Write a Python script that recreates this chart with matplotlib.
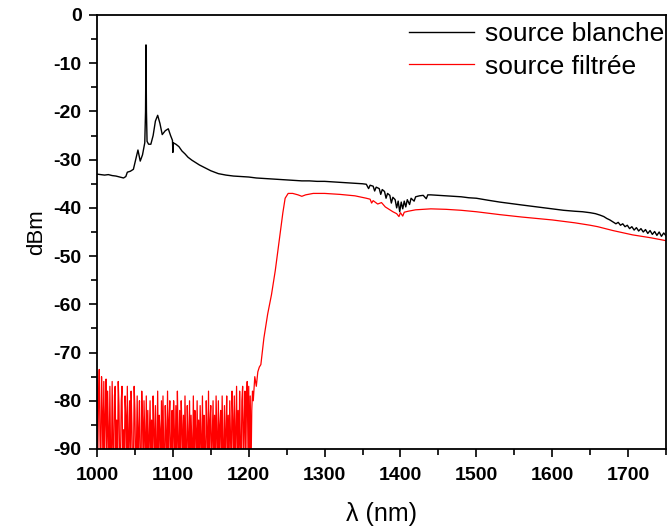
import matplotlib
matplotlib.use("Agg")
import matplotlib.pyplot as plt
from matplotlib.ticker import MultipleLocator

# ---- data: source blanche (black) ----
black_x = [1000, 1005, 1010, 1015, 1020, 1025, 1030, 1035, 1038, 1040, 1044, 1048,
           1051, 1054, 1057, 1060, 1063, 1064, 1064.6, 1065.2, 1066, 1068, 1071, 1074,
           1077, 1080, 1083, 1086, 1090, 1094, 1097, 1099.5, 1100, 1100.5, 1104, 1108,
           1112, 1116, 1120, 1125, 1130, 1135, 1140, 1145, 1150, 1155, 1160, 1170,
           1180, 1190, 1200, 1210, 1220, 1230, 1240, 1250, 1260, 1270, 1280, 1290,
           1300, 1310, 1320, 1330, 1340, 1350, 1355, 1358, 1360, 1364, 1366, 1368,
           1372, 1374, 1376, 1379, 1381, 1383, 1386, 1388, 1390, 1393, 1395, 1397,
           1399, 1401, 1403, 1405, 1407, 1409, 1412, 1414, 1418, 1420, 1425, 1430,
           1434, 1436, 1440, 1450, 1460, 1470, 1480, 1490, 1500, 1515, 1531, 1545,
           1560, 1575, 1590, 1600, 1615, 1630, 1640, 1650, 1657, 1663, 1668, 1672,
           1676, 1680, 1684, 1687, 1690, 1693, 1696, 1699, 1702, 1705, 1708, 1711,
           1714, 1717, 1720, 1723, 1726, 1729, 1732, 1735, 1738, 1741, 1744, 1747, 1750]
black_y = [-33.0, -33.1, -33.2, -33.1, -33.3, -33.4, -33.6, -33.8, -33.5, -32.6, -32.4, -32.0,
           -30.0, -28.0, -30.3, -29.0, -26.5, -20.0, -6.2, -20.0, -26.2, -26.8, -26.8, -25.0,
           -22.0, -20.8, -22.5, -24.8, -24.0, -23.6, -25.0, -26.0, -28.5, -26.5, -26.8, -27.3,
           -28.2, -28.8, -29.5, -30.1, -30.6, -31.1, -31.5, -31.9, -32.3, -32.6, -32.9, -33.2,
           -33.4, -33.5, -33.6, -33.8, -33.9, -34.0, -34.1, -34.2, -34.3, -34.4, -34.4, -34.5,
           -34.5, -34.6, -34.7, -34.8, -34.9, -35.0, -35.1, -36.0, -35.3, -35.5, -36.5, -35.7,
           -36.0, -37.2, -36.2, -36.6, -38.0, -37.0, -37.4, -39.0, -37.8, -38.3, -40.0, -38.6,
           -40.8, -38.8, -40.2, -38.6, -39.8, -38.3, -39.3, -38.0, -38.6, -37.7, -37.5, -37.4,
           -38.1, -37.3, -37.3, -37.4, -37.5, -37.6, -37.7, -37.9, -38.0, -38.4, -38.8, -39.1,
           -39.4, -39.7, -40.0, -40.2, -40.5, -40.7, -40.8, -41.0, -41.2, -41.5, -41.8, -42.2,
           -42.5, -42.9, -43.3, -43.0, -43.6, -43.3, -43.9, -43.6, -44.3, -43.9, -44.6, -44.1,
           -44.8, -44.3, -45.0, -44.5, -45.3, -44.7, -45.5, -44.9, -45.7, -45.0, -45.9, -45.2, -45.8]

# ---- data: source filtrée (red) ----
# noisy floor, sampled every 1 nm from 1000 to 1205 nm
red_noise_x = list(range(1000, 1206))
red_noise_y = [
    -74, -92, -80, -73.5, -88, -95, -75, -82, -95, -76, -90, -84, -75.5, -95, -78, -86, -95, -77, -93, -95,
    -76, -89, -95, -79, -77, -95, -84, -95, -76, -81, -95, -92, -80, -77, -95, -86, -95, -79, -83, -95,
    -77, -95, -88, -80, -95, -78, -85, -95, -95, -77, -82, -95, -90, -79, -95, -86, -80, -95, -95, -78,
    -84, -95, -80, -87, -95, -79, -95, -82, -95, -88, -80, -95, -84, -95, -79, -86, -95, -81, -95, -90,
    -78, -95, -83, -86, -95, -80, -95, -79, -92, -95, -81, -87, -95, -78, -95, -84, -80, -95, -89, -82,
    -95, -80, -86, -95, -81, -95, -78, -88, -95, -82, -95, -80, -85, -95, -83, -95, -79, -90, -95, -81,
    -87, -95, -80, -95, -83, -89, -95, -79, -95, -82, -86, -95, -80, -95, -84, -95, -81, -88, -95, -79,
    -95, -83, -90, -95, -80, -86, -95, -78, -95, -84, -81, -95, -88, -80, -95, -83, -95, -79, -87, -95,
    -80, -95, -85, -82, -95, -79, -90, -95, -81, -95, -86, -79, -95, -83, -95, -80, -88, -95, -78, -84,
    -95, -79, -95, -86, -77, -95, -82, -95, -78, -89, -95, -80, -77, -95, -85, -78, -95, -81, -76, -90,
    -77, -95, -79, -95, -82, -78]
# edge of the filter and pass band
red_band_x = [1206, 1208, 1210, 1212, 1214, 1216, 1220, 1225, 1230, 1235, 1240, 1245, 1248, 1252,
              1258, 1265, 1270, 1275, 1285, 1300, 1320, 1340, 1355, 1360, 1362, 1364, 1370, 1375,
              1380, 1385, 1390, 1395, 1398, 1400, 1403, 1405, 1410, 1420, 1440, 1460, 1480, 1500,
              1531, 1560, 1600, 1630, 1650, 1660, 1680, 1706, 1730, 1750]
red_band_y = [-80, -75, -77, -74, -73, -72.5, -67, -62, -58, -53, -47, -41, -38, -37,
              -37, -37.3, -37.6, -37.3, -37.0, -37.0, -37.2, -37.5, -38.0, -38.2, -39.0, -38.5, -39.2, -38.9,
              -39.8, -40.3, -40.8, -41.2, -41.8, -41.0, -41.7, -40.9, -40.7, -40.4, -40.2, -40.3, -40.5, -40.8,
              -41.4, -41.9, -42.5, -43.1, -43.6, -43.9, -44.7, -45.6, -46.2, -46.8]

x_ticks = [1000, 1100, 1200, 1300, 1400, 1500, 1600, 1700]
y_ticks = [0, -10, -20, -30, -40, -50, -60, -70, -80, -90]
labels = ["source blanche", "source filtrée"]

plt.rcParams['font.family'] = ['Liberation Sans', 'DejaVu Sans']
plt.rcParams['axes.unicode_minus'] = False

fig = plt.figure(figsize=(6.67, 5.26), dpi=100)
ax = fig.add_axes([0.1454, 0.1464, 0.8531, 0.8251])

ax.plot(black_x, black_y, color='black', lw=1.0, label=labels[0])
ax.plot(red_noise_x + red_band_x, red_noise_y + red_band_y, color='red', lw=0.9, label=labels[1])

ax.set_xlim(1000, 1750)
ax.set_ylim(-90, 0)
ax.set_xticks(x_ticks)
ax.set_yticks(y_ticks)
ax.xaxis.set_minor_locator(MultipleLocator(50))
ax.yaxis.set_minor_locator(MultipleLocator(5))
ax.tick_params(which='major', direction='out', length=6, width=1.2, labelsize=14, pad=5)
ax.tick_params(axis='x', which='major', pad=7)
ax.tick_params(which='minor', direction='out', length=4, width=1.2)
for lab in ax.get_xticklabels() + ax.get_yticklabels():
    lab.set_fontweight('bold')
for s in ax.spines.values():
    s.set_linewidth(1.3)

ax.set_xlabel("λ (nm)", fontsize=18, labelpad=13)
ax.set_ylabel("dBm", fontsize=16, labelpad=5)

ax.legend(loc='upper right', bbox_to_anchor=(1.0, 0.987), frameon=False, fontsize=19,
          handlelength=2.45, handletextpad=0.45, labelspacing=0.33, borderpad=0.0,
          borderaxespad=0.05)

fig.savefig("out.png", dpi=100)
